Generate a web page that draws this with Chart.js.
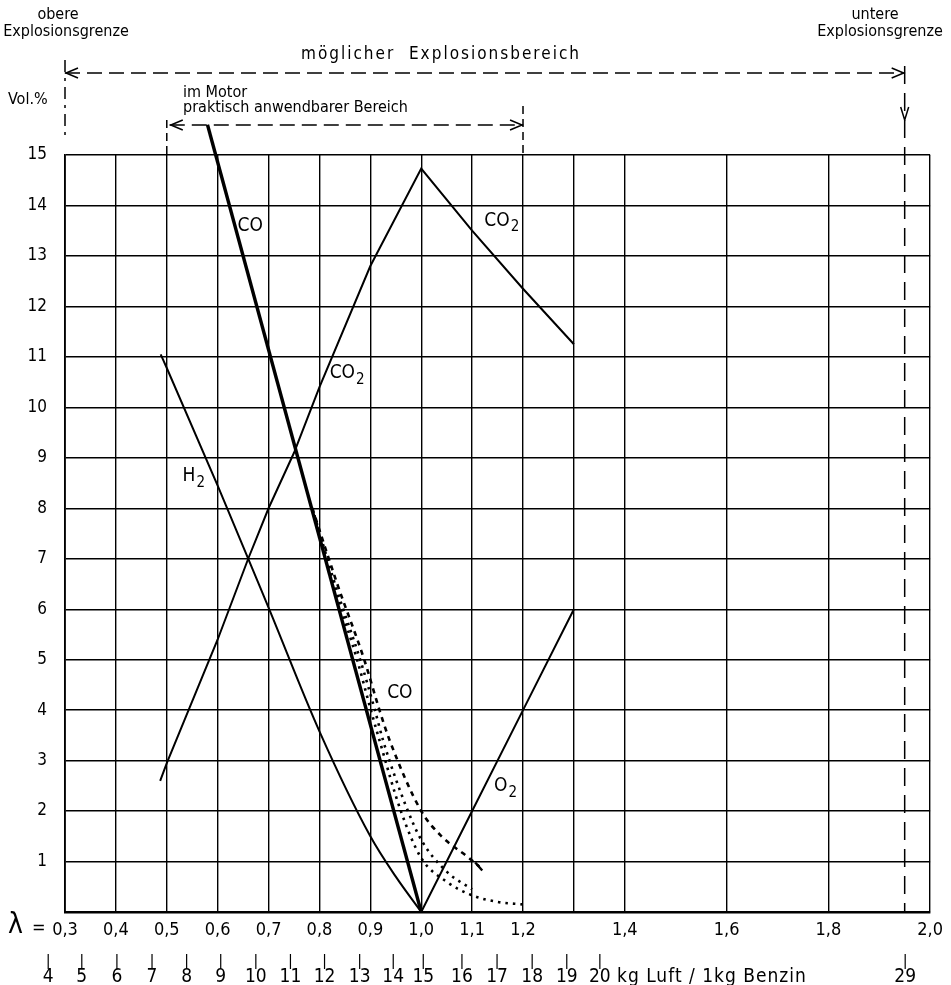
<!DOCTYPE html>
<html lang="de">

<head>
    <meta charset="UTF-8">
    <title>Abgaszusammensetzung</title>
    <script src="https://cdn.jsdelivr.net/npm/chart.js"></script>
    <style>
        body { margin: 0; background: #fff; }
    </style>
</head>

<body>
    <canvas id="graficoAbgas" width="951" height="985"></canvas>

<script>
    // Achsen
    const lambdaTicks = [0.3, 0.4, 0.5, 0.6, 0.7, 0.8, 0.9, 1.0, 1.1, 1.2, 1.3, 1.4, 1.6, 1.8, 2.0]
    const lambdaOhneText = [1.3]
    const volTicks = [0, 1, 2, 3, 4, 5, 6, 7, 8, 9, 10, 11, 12, 13, 14, 15]
    const kgLuft = [4, 5, 6, 7, 8, 9, 10, 11, 12, 13, 14, 15, 16, 17, 18, 19, 20, 29]
    const kgLambda = [0.267, 0.333, 0.402, 0.471, 0.539, 0.606, 0.675, 0.743, 0.810, 0.879, 0.945, 1.004, 1.080, 1.149, 1.218, 1.286, 1.351, 1.951]

    // Bereiche
    const explosionsBereich = [0.3, 1.95]
    const motorBereich = [0.5, 1.2]

    // Kurven
    const coLambda = [0.58, 1.0]
    const coVol = [15.6, 0]

    const co2Lambda = [0.487, 0.5, 0.6, 0.66, 0.7, 0.75, 0.8, 0.9, 1.0, 1.1, 1.2, 1.3]
    const co2Vol = [2.6, 2.95, 5.4, 7.0, 8.0, 9.1, 10.4, 12.8, 14.73, 13.5, 12.35, 11.25]

    const h2Lambda = [0.488, 0.5, 0.6, 0.7, 0.8, 0.9, 0.95, 1.0]
    const h2Vol = [11.05, 10.78, 8.45, 6.03, 3.58, 1.5, 0.7, 0]

    const o2Lambda = [1.0, 1.1, 1.2, 1.3]
    const o2Vol = [0, 2, 4, 6]

    const coA_Lambda = [0.786, 0.835, 0.888, 0.918, 0.938, 1.0, 1.04, 1.094, 1.114]
    const coA_Vol = [8.0, 6.5, 5.0, 4.0, 3.4, 2.0, 1.5, 1.07, 0.9]
    const coB_Lambda = [0.786, 0.832, 0.88, 0.909, 0.925, 0.97, 1.0, 1.05, 1.1]
    const coB_Vol = [8.0, 6.45, 5.0, 4.0, 3.4, 2.1, 1.43, 0.8, 0.45]
    const coC_Lambda = [0.786, 0.83, 0.874, 0.901, 0.918, 0.96, 1.0, 1.05, 1.1, 1.15, 1.2]
    const coC_Vol = [8.0, 6.4, 5.0, 4.0, 3.4, 2.0, 1.07, 0.6, 0.33, 0.2, 0.15]

    // Beschriftung der Kurven (lambda, Vol.%)
    const kurvenText = [
        { text: 'CO', sub: '', x: 0.639, y: 13.6 },
        { text: 'CO', sub: '2', x: 1.124, y: 13.7 },
        { text: 'CO', sub: '2', x: 0.82, y: 10.67 },
        { text: 'H', sub: '2', x: 0.531, y: 8.63 },
        { text: 'CO', sub: '', x: 0.933, y: 4.34 },
        { text: 'O', sub: '2', x: 1.143, y: 2.5 }
    ]

    const schrift = "'DejaVu Sans Condensed', 'Liberation Sans Narrow', sans-serif"

    function punkte(xs, ys) {
        return xs.map((x, i) => ({ x: x, y: ys[i] }))
    }

    function pfeilSpitze(ctx, x, y, richtung) {
        // richtung: 'links', 'rechts', 'unten'
        ctx.save()
        ctx.setLineDash([])
        ctx.beginPath()
        if (richtung == 'links') {
            ctx.moveTo(x + 13, y - 5); ctx.lineTo(x + 1, y); ctx.lineTo(x + 13, y + 5)
        } else if (richtung == 'rechts') {
            ctx.moveTo(x - 13, y - 5); ctx.lineTo(x - 1, y); ctx.lineTo(x - 13, y + 5)
        } else {
            ctx.moveTo(x - 4, y - 13); ctx.lineTo(x, y); ctx.lineTo(x + 4, y - 13)
        }
        ctx.stroke()
        ctx.restore()
    }

    function strich(ctx, x1, y1, x2, y2, dash) {
        ctx.save()
        ctx.setLineDash(dash)
        ctx.beginPath()
        ctx.moveTo(x1, y1)
        ctx.lineTo(x2, y2)
        ctx.stroke()
        ctx.restore()
    }

    const beschriftung = {
        id: 'beschriftung',
        afterDraw(chart) {
            const ctx = chart.ctx
            const xs = chart.scales.x
            const ys = chart.scales.y
            const area = chart.chartArea

            ctx.save()
            ctx.fillStyle = '#000'
            ctx.strokeStyle = '#000'
            ctx.lineWidth = 1.5

            // Kopftexte
            ctx.textBaseline = 'middle'
            ctx.textAlign = 'center'
            ctx.font = '16px ' + schrift
            ctx.fillText('obere', 58, 15)
            ctx.fillText('Explosionsgrenze', 66, 32)
            ctx.fillText('untere', 875, 15)
            ctx.fillText('Explosionsgrenze', 880, 32)

            ctx.font = '17px ' + schrift
            ctx.letterSpacing = '2px'
            ctx.fillText('möglicher  Explosionsbereich', 441, 55)
            ctx.letterSpacing = '0px'

            ctx.textAlign = 'left'
            ctx.font = '16px ' + schrift
            ctx.fillText('im Motor', 183, 93)
            ctx.fillText('praktisch anwendbarer Bereich', 183, 108)

            // Pfeile
            const xe1 = xs.getPixelForValue(explosionsBereich[0])
            const xe2 = xs.getPixelForValue(explosionsBereich[1])
            strich(ctx, xe1, 73, xe2, 73, [15, 7])
            pfeilSpitze(ctx, xe1, 73, 'links')
            pfeilSpitze(ctx, xe2, 73, 'rechts')
            strich(ctx, xe1, 60, xe1, 138, [12, 6, 3, 6])
            strich(ctx, xe2, 66, xe2, area.bottom, [18, 9])
            pfeilSpitze(ctx, xe2, 120, 'unten')

            const xm1 = xs.getPixelForValue(motorBereich[0])
            const xm2 = xs.getPixelForValue(motorBereich[1])
            strich(ctx, xm1 + 3, 125, xm2, 125, [15, 7])
            pfeilSpitze(ctx, xm1 + 3, 125, 'links')
            pfeilSpitze(ctx, xm2, 125, 'rechts')
            strich(ctx, xm1, 120, xm1, area.top, [8, 5])
            strich(ctx, xm2, 106, xm2, area.top, [8, 5])

            // Vol.%
            ctx.textAlign = 'left'
            ctx.font = '16px ' + schrift
            ctx.fillText('Vol.%', 8, 100)

            // lambda =
            ctx.font = '28px ' + schrift
            ctx.fillText('λ', 8, 926)
            ctx.font = '18px ' + schrift
            ctx.fillText('=', 32, 928)

            // kg Luft Achse
            ctx.textAlign = 'center'
            ctx.font = '19px ' + schrift
            ctx.lineWidth = 1.2
            kgLuft.forEach((kg, i) => {
                const px = xs.getPixelForValue(kgLambda[i])
                strich(ctx, px, 954, px, 969, [])
                ctx.fillText(String(kg), px, 977)
            })
            ctx.textAlign = 'left'
            ctx.letterSpacing = '1px'
            ctx.fillText('kg Luft / 1kg Benzin', 617, 977)
            ctx.letterSpacing = '0px'

            // kleiner Endstrich der oberen CO-Kurve
            const nA = coA_Lambda.length - 1
            const ex = xs.getPixelForValue(coA_Lambda[nA])
            const ey = ys.getPixelForValue(coA_Vol[nA])
            ctx.lineWidth = 2.4
            strich(ctx, ex - 4, ey - 4, ex + 3, ey + 4, [])

            // Kurvenbeschriftung
            kurvenText.forEach(t => {
                const px = xs.getPixelForValue(t.x)
                const py = ys.getPixelForValue(t.y)
                ctx.font = '19px ' + schrift
                ctx.textAlign = 'left'
                ctx.fillText(t.text, px, py)
                if (t.sub) {
                    const w = ctx.measureText(t.text).width
                    ctx.font = '15px ' + schrift
                    ctx.fillText(t.sub, px + w + 1, py + 7)
                }
            })

            ctx.restore()
        }
    }

    const grafico = document.getElementById('graficoAbgas')

    new Chart(grafico, {
        type: 'line',
        data: {
            datasets: [
                {
                    data: punkte(coLambda, coVol),
                    borderColor: '#000',
                    borderWidth: 3.4,
                    clip: false
                },
                {
                    data: punkte(co2Lambda, co2Vol),
                    borderColor: '#000',
                    borderWidth: 2
                },
                {
                    data: punkte(h2Lambda, h2Vol),
                    borderColor: '#000',
                    borderWidth: 2,
                    cubicInterpolationMode: 'monotone'
                },
                {
                    data: punkte(o2Lambda, o2Vol),
                    borderColor: '#000',
                    borderWidth: 2
                },
                {
                    data: punkte(coA_Lambda, coA_Vol),
                    borderColor: '#000',
                    borderWidth: 2.6,
                    borderDash: [5, 5],
                    cubicInterpolationMode: 'monotone'
                },
                {
                    data: punkte(coB_Lambda, coB_Vol),
                    borderColor: '#000',
                    borderWidth: 2.6,
                    borderDash: [2.5, 5],
                    cubicInterpolationMode: 'monotone'
                },
                {
                    data: punkte(coC_Lambda, coC_Vol),
                    borderColor: '#000',
                    borderWidth: 2.6,
                    borderDash: [2.5, 5],
                    cubicInterpolationMode: 'monotone'
                }
            ]
        },
        options: {
            responsive: false,
            animation: false,
            layout: {
                padding: { top: 155, right: 18, left: 0, bottom: 0 }
            },
            elements: {
                point: { radius: 0 }
            },
            plugins: {
                legend: { display: false },
                tooltip: { enabled: false }
            },
            scales: {
                x: {
                    type: 'linear',
                    min: 0.3,
                    max: 2.0,
                    afterBuildTicks: function (s) {
                        s.ticks = lambdaTicks.map(v => ({ value: v }))
                    },
                    afterFit: function (s) {
                        s.height = 73
                    },
                    grid: {
                        color: '#000',
                        lineWidth: 1.4,
                        drawTicks: false
                    },
                    border: { color: '#000', width: 2.4 },
                    ticks: {
                        padding: 8,
                        color: '#000',
                        maxRotation: 0,
                        autoSkip: false,
                        font: { family: schrift, size: 18 },
                        callback: function (v) {
                            if (lambdaOhneText.includes(v)) return ''
                            return v.toFixed(1).replace('.', ',')
                        }
                    }
                },
                y: {
                    min: 0,
                    max: 15,
                    afterBuildTicks: function (s) {
                        s.ticks = volTicks.map(v => ({ value: v }))
                    },
                    afterFit: function (s) {
                        s.width = 65
                    },
                    grid: {
                        color: '#000',
                        lineWidth: 1.4,
                        drawTicks: false
                    },
                    border: { color: '#000', width: 1.8 },
                    ticks: {
                        padding: 18,
                        color: '#000',
                        font: { family: schrift, size: 17 },
                        callback: function (v) {
                            return v == 0 ? '' : String(v)
                        }
                    }
                }
            }
        },
        plugins: [beschriftung]
    });
</script>
</body>

</html>
